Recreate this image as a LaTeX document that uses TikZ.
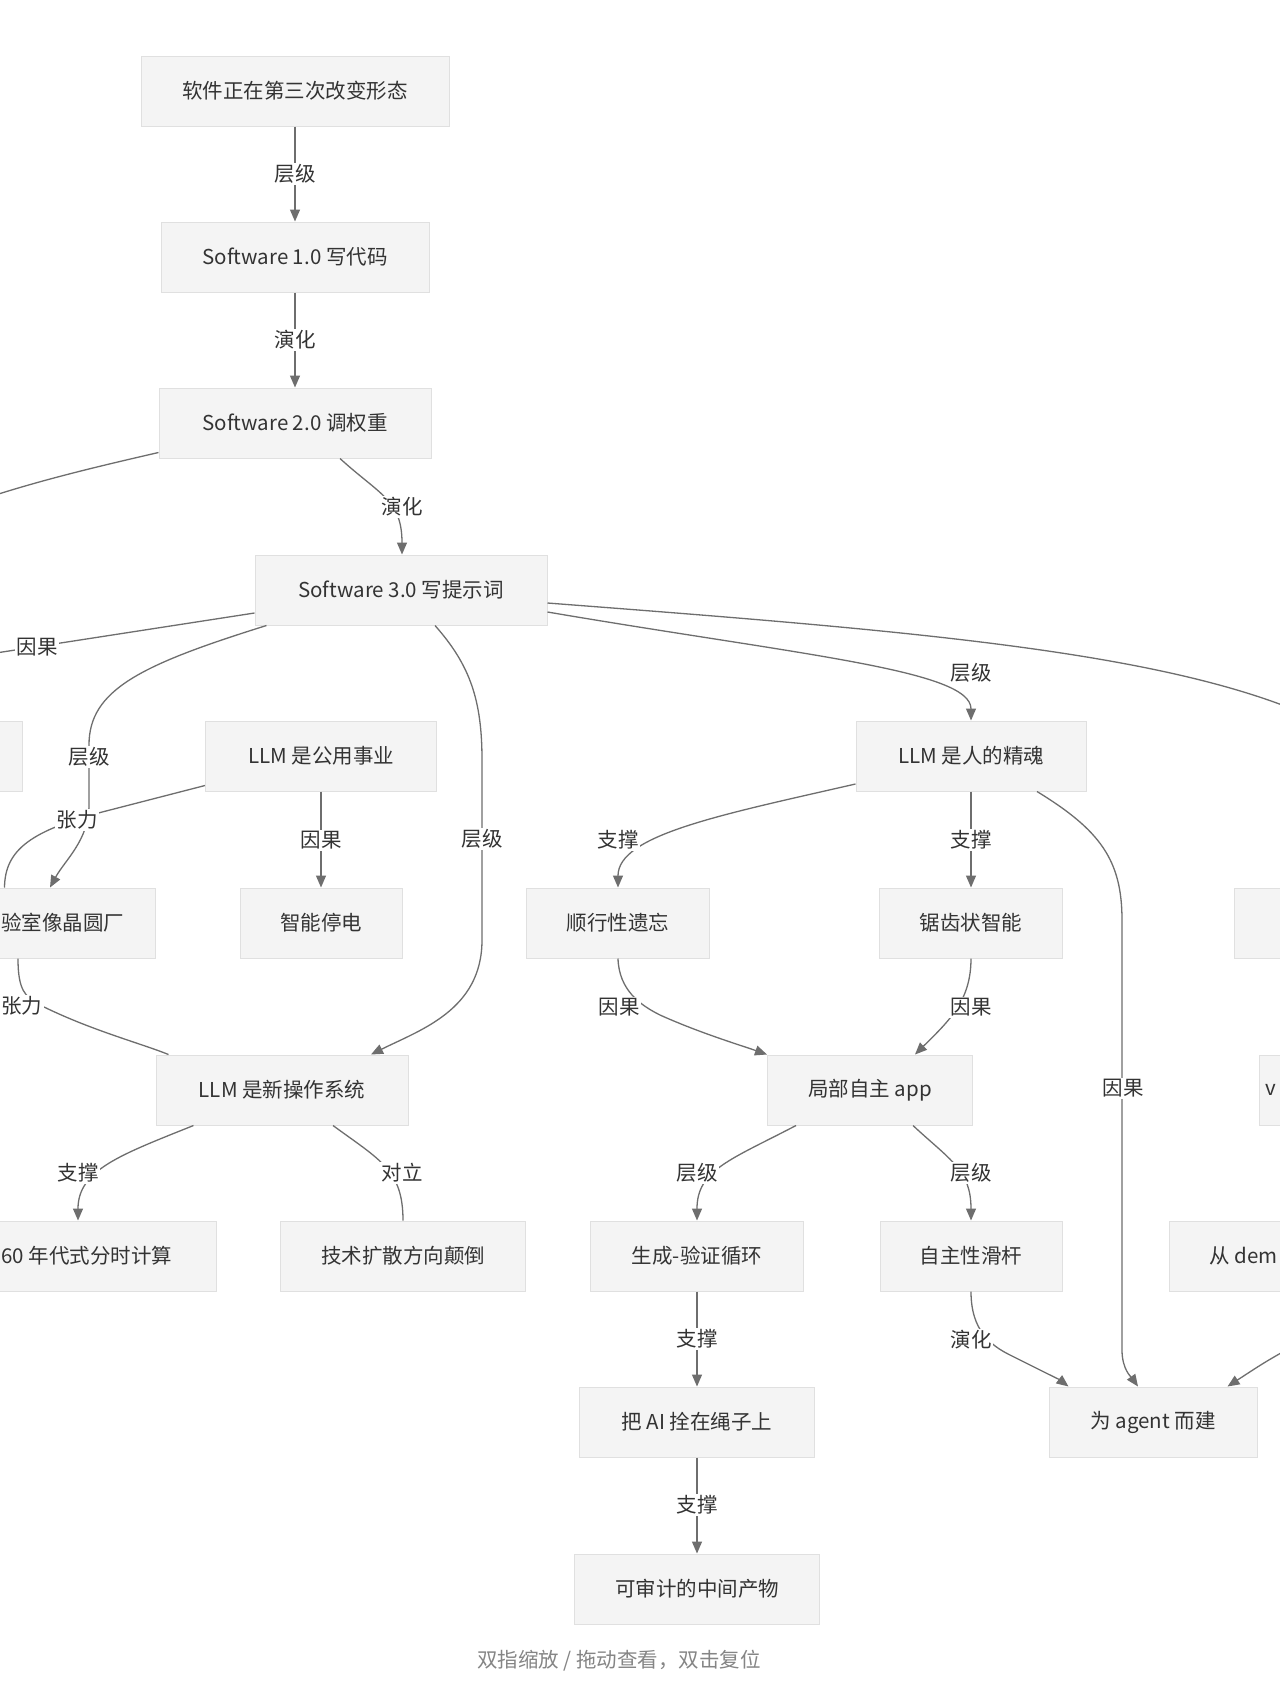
\documentclass[tikz,border=0pt]{standalone}
\usepackage{fontspec}
\setmainfont{Noto Sans CJK SC}
\usetikzlibrary{arrows.meta,calc}
\definecolor{nodefill}{HTML}{F4F4F4}
\definecolor{nodeline}{HTML}{E0E0E0}
\definecolor{edgecol}{HTML}{6E6E6E}
\definecolor{txt}{HTML}{333333}
\definecolor{foot}{HTML}{858585}
\begin{document}
\begin{tikzpicture}[x=1pt,y=-1pt,
  box/.style={draw=nodeline,fill=nodefill,line width=1pt,minimum height=70pt,inner sep=0pt,text=txt,font=\fontsize{20.5}{24}\selectfont},
  frag/.style={inner sep=0pt,text=txt,font=\fontsize{20.5}{24}\selectfont},
  lbl/.style={fill=white,inner sep=1.5pt,text=txt,font=\fontsize{20.5}{24}\selectfont},
  edge/.style={draw=edgecol,line width=1.3pt},
  arr/.style={edge,-{Triangle[length=12pt,width=10pt]}}]
\useasboundingbox (0,0) rectangle (1280,1706);
\fill[white] (0,0) rectangle (1280,1706);
\clip (0,0) rectangle (1280,1706);

% nodes
\node[box,minimum width=308pt] (n1) at (295,91) {软件正在第三次改变形态};
\node[box,minimum width=268pt] (n2) at (295,257) {Software 1.0 写代码};
\node[box,minimum width=272pt] (n3) at (295,423) {Software 2.0 调权重};
\node[box,minimum width=292pt] (n4) at (401,590) {Software 3.0 写提示词};
\node[box,minimum width=231pt] (n5) at (321,756) {LLM 是公用事业};
\node[box,minimum width=200pt,anchor=east] (n6) at (23,756) {};
\node[box,minimum width=222pt] (n7) at (44,923) {};
\node[frag,anchor=west] (t7) at (1,923) {验室像晶圆厂};
\node[box,minimum width=162pt] (n8) at (321,923) {智能停电};
\node[box,minimum width=252pt] (n9) at (282,1090) {LLM 是新操作系统};
\node[box,minimum width=278pt] (n10) at (77,1256) {};
\node[frag,anchor=west] (t10) at (1,1256) {60 年代式分时计算};
\node[box,minimum width=245pt] (n11) at (403,1256) {技术扩散方向颠倒};
\node[box,minimum width=183pt] (n12) at (618,923) {顺行性遗忘};
\node[box,minimum width=183pt] (n13) at (971,923) {锯齿状智能};
\node[box,minimum width=230pt] (n14) at (971,756) {LLM 是人的精魂};
\node[box,minimum width=205pt] (n15) at (870,1090) {局部自主 app};
\node[box,minimum width=200pt,anchor=west] (n16) at (1234,923) {};
\node[box,minimum width=200pt,anchor=west] (n17) at (1259,1090) {};
\node[box,minimum width=200pt,anchor=west] (n18) at (1169,1256) {};
\node[frag,anchor=west] (t17) at (1265,1090) {v};
\node[frag,anchor=west] (t18) at (1209,1256) {从 dem};
\node[box,minimum width=213pt] (n19) at (697,1256) {生成-验证循环};
\node[box,minimum width=182pt] (n20) at (971,1256) {自主性滑杆};
\node[box,minimum width=235pt] (n21) at (697,1422) {把 AI 拴在绳子上};
\node[box,minimum width=208pt] (n22) at (1153,1422) {为 agent 而建};
\node[box,minimum width=245pt] (n23) at (697,1589) {可审计的中间产物};

\coordinate (offL1) at (-20,500);
\coordinate (offL2) at (-30,657);
\coordinate (offR1) at (1300,712);
\coordinate (offR2) at (1295,1345);

% edges
\draw[arr] (n1) -- (n2);
\draw[arr] (n2) -- (n3);
\draw[arr] ($(n3.south)+(45,0)$) .. controls (380,495) and (402,500) .. ($(n4.north)+(1,0)$);
\draw[edge] ($(n3.south west)+(0,-6)$) .. controls (100,466) and (40,480) .. (offL1);
\draw[edge] ($(n4.west)+(0,23)$) -- (offL2);
\draw[arr] ($(n4.south west)+(12,0)$) .. controls (140,665) and (89,690) .. (89,745) -- (89,805) .. controls (89,840) and (65,860) .. ($(n7.north)+(6,0)$);
\draw[edge] ($(n5.south west)+(0,-6)$) -- (110,810) .. controls (30,830) and (5,850) .. ($(n7.north west)+(72,0)$);
\draw[edge] ($(n7.south)+(-26,0)$) .. controls (18,990) and (25,997) .. (40,1005) .. controls (90,1030) and (140,1043) .. ($(n9.north west)+(13,0)$);
\draw[arr] (n5) -- (n8);
\draw[arr] ($(n4.south)+(34,0)$) .. controls (470,665) and (482,700) .. (482,760) -- (482,940) .. controls (482,1010) and (420,1030) .. ($(n9.north)+(89,0)$);
\draw[arr] ($(n9.south west)+(38,0)$) .. controls (120,1155) and (78,1170) .. ($(n10.north)+(1,0)$);
\draw[edge] ($(n9.south)+(51,0)$) .. controls (380,1160) and (403,1170) .. (n11.north);
\draw[arr] ($(n4.east)+(0,22)$) .. controls (800,655) and (971,670) .. (n14.north);
\draw[edge] ($(n4.east)+(0,13)$) .. controls (900,630) and (1150,650) .. (offR1);
\draw[arr] ($(n14.west)+(0,28)$) .. controls (720,815) and (618,835) .. (n12.north);
\draw[arr] (n14) -- (n13);
\draw[arr] ($(n14.south)+(66,0)$) .. controls (1100,830) and (1122,860) .. (1122,920) -- (1122,1350) .. controls (1122,1370) and (1132,1378) .. ($(n22.north)+(-15,0)$);
\draw[arr] (n12.south) .. controls (619,990) and (640,1005) .. (660,1015) .. controls (700,1033) and (740,1045) .. (n15.north west);
\draw[arr] (n13.south) .. controls (971,1000) and (950,1020) .. ($(n15.north)+(45,0)$);
\draw[arr] ($(n15.south)+(-74,0)$) .. controls (730,1160) and (697,1170) .. (n19.north);
\draw[arr] ($(n15.south)+(43,0)$) .. controls (950,1160) and (971,1170) .. (n20.north);
\draw[arr] (n19) -- (n21);
\draw[arr] (n20.south) .. controls (971,1330) and (990,1345) .. (1010,1355) .. controls (1040,1370) and (1060,1380) .. ($(n22.north west)+(20,0)$);
\draw[arr] (n21) -- (n23);
\draw[arr] (offR2) .. controls (1265,1362) .. ($(n22.north east)+(-30,0)$);

% labels
\node[lbl] (l1) at (295,174) {层级};
\node[lbl] (l2) at (295,340) {演化};
\node[lbl] (l3) at (402,507) {演化};
\node[lbl] (l4) at (37,647) {因果};
\node[lbl] (l5) at (89,757) {层级};
\node[lbl] (l6) at (77,820) {张力};
\node[lbl] (l7) at (22,1006) {张力};
\node[lbl] (l8) at (321,840) {因果};
\node[lbl] (l9) at (482,839) {层级};
\node[lbl] (l10) at (78,1173) {支撑};
\node[lbl] (l11) at (402,1173) {对立};
\node[lbl] (l12) at (971,673) {层级};
\node[lbl] (l13) at (618,840) {支撑};
\node[lbl] (l14) at (971,840) {支撑};
\node[lbl] (l15) at (1123,1088) {因果};
\node[lbl] (l16) at (619,1007) {因果};
\node[lbl] (l17) at (971,1007) {因果};
\node[lbl] (l18) at (697,1173) {层级};
\node[lbl] (l19) at (971,1173) {层级};
\node[lbl] (l20) at (697,1339) {支撑};
\node[lbl] (l21) at (971,1340) {演化};
\node[lbl] (l22) at (697,1505) {支撑};

\node[text=foot,font=\fontsize{20.5}{24}\selectfont] (footer) at (619,1661) {双指缩放 / 拖动查看，双击复位};
\end{tikzpicture}
\end{document}
